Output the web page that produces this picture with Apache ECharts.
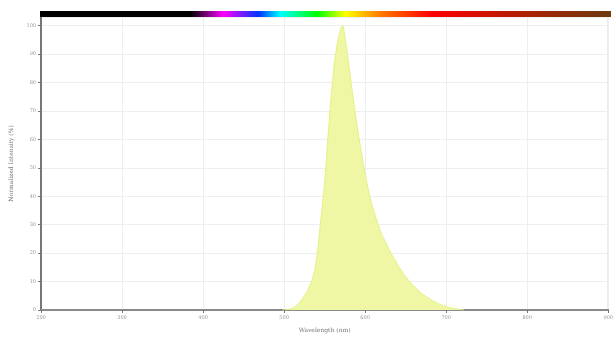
<!DOCTYPE html>
<html>
<head>
<meta charset="utf-8">
<script src="https://cdn.jsdelivr.net/npm/echarts@6/dist/echarts.min.js"></script>
<style>html,body{margin:0;padding:0;background:#fff}#c{width:616px;height:338px}</style>
</head>
<body>
<div id="c"></div>
<script>
// Emission spectrum (wavelength nm, normalized intensity %)
const wavelengths = [498,505,510,515,520,525,530,535,540,545,550,555,560,565,570,572,575,580,585,590,595,600,605,610,615,620,625,630,635,640,645,650,655,660,665,670,675,680,690,700,710,722];
const intensity   = [0,0.2,0.6,1.4,3,5,7.5,11,18,31,45,64,81,92.5,99,100,96,86,75,65,56,48,41,35.5,31,27,24,21,18.5,16,13.8,11.8,10,8.4,7,5.8,4.8,3.9,2.3,1.2,0.5,0];
const xTicks = [200,300,400,500,600,700,800,900];
const yTicks = [0,10,20,30,40,50,60,70,80,90,100];
// visible-spectrum colour bar stops (wavelength nm, colour)
const barStops = [[200,'#000000'],[385,'#000000'],[425,'#ff00ff'],[468,'#0033ff'],[495,'#00ffff'],[540,'#00ff00'],[575,'#ffff00'],[615,'#ff8000'],[680,'#ff0000'],[790,'#b02000'],[900,'#6b3a10']];

const xMin = xTicks[0], xMax = xTicks[xTicks.length-1];
const chart = echarts.init(document.getElementById('c'), null, {renderer:'canvas'});
const gradStops = barStops.map(s => ({offset:(s[0]-xMin)/(xMax-xMin), color:s[1]}));

chart.setOption({
  animation:false,
  backgroundColor:'#fff',
  grid:[
    {left:40, right:5, top:17, bottom:28, show:true, borderColor:'#b8b8b8', borderWidth:1},
    {left:40, right:5, top:11, height:6, show:false}
  ],
  xAxis:[
    {type:'value', gridIndex:0, min:xMin, max:xMax, interval:100,
     name:'Wavelength (nm)', nameLocation:'middle', nameGap:17,
     nameTextStyle:{fontSize:6, color:'#777', fontFamily:'DejaVu Serif'},
     axisLine:{show:true, lineStyle:{color:'#8a8a8a', width:2}},
     axisTick:{show:true, length:3, lineStyle:{color:'#777'}},
     axisLabel:{fontSize:5, color:'#999', margin:5, fontFamily:'DejaVu Serif'},
     splitLine:{show:true, lineStyle:{color:'#eeeeee', width:1}}},
    {type:'value', gridIndex:1, min:xMin, max:xMax, show:false}
  ],
  yAxis:[
    {type:'value', gridIndex:0, min:0, max:103, interval:10,
     name:'Normalized Intensity (%)', nameLocation:'middle', nameGap:27,
     nameTextStyle:{fontSize:6, color:'#777', fontFamily:'DejaVu Serif'},
     axisLine:{show:true, lineStyle:{color:'#777', width:2}},
     axisTick:{show:true, length:3, lineStyle:{color:'#777'}},
     axisLabel:{fontSize:5, color:'#999', margin:5, showMaxLabel:false, fontFamily:'DejaVu Serif',
       formatter: v => yTicks.includes(v) ? String(v) : ''},
     splitLine:{show:true, lineStyle:{color:'#eeeeee', width:1}}},
    {type:'value', gridIndex:1, min:0, max:1, show:false}
  ],
  series:[
    {type:'line', xAxisIndex:0, yAxisIndex:0, data:wavelengths.map((w,i)=>[w,intensity[i]]),
     smooth:0.4, showSymbol:false, symbol:'none',
     lineStyle:{color:'#e4f084', width:1},
     areaStyle:{color:'#eff7a4', opacity:1}},
    {type:'line', xAxisIndex:1, yAxisIndex:1, data:[], silent:true,
     markArea:{silent:true, itemStyle:{color:{type:'linear', x:0, y:0, x2:1, y2:0, colorStops:gradStops}},
       data:[[{xAxis:xMin, yAxis:0},{xAxis:xMax, yAxis:1}]]}}
  ]
});
</script>
</body>
</html>
